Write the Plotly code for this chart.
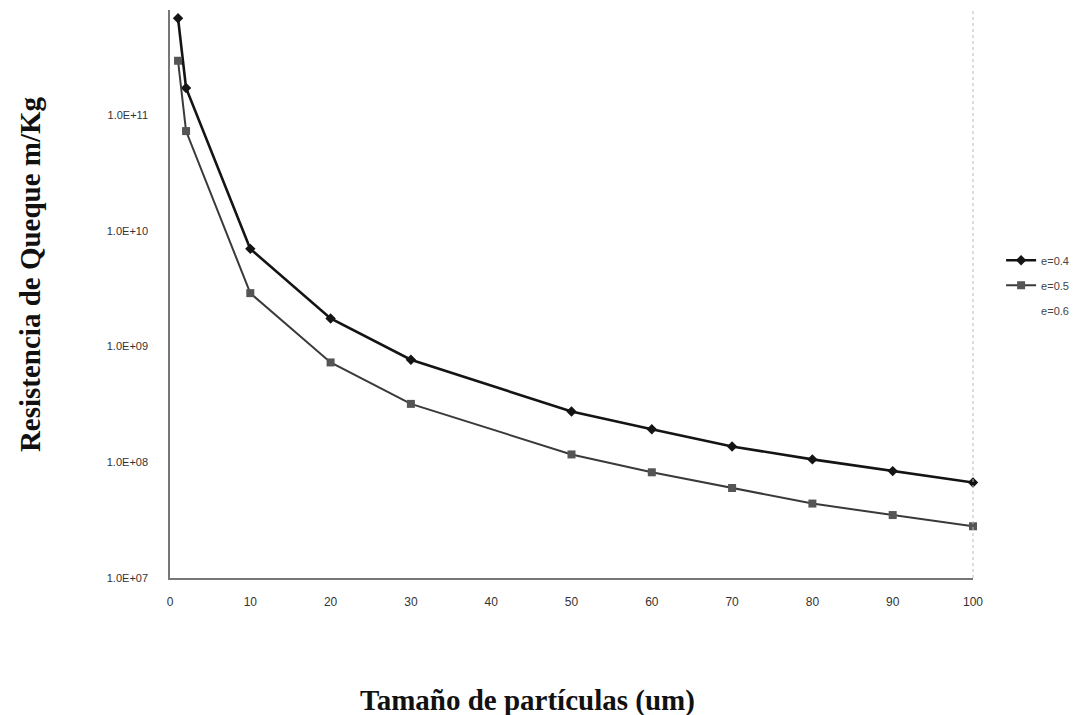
import plotly.graph_objects as go

# Data
x_04 = [1, 2, 10, 20, 30, 50, 60, 70, 80, 90, 100]
y_04 = [6.9e11, 1.72e11, 7.0e9, 1.75e9, 7.7e8, 2.75e8, 1.93e8, 1.37e8, 1.06e8, 8.4e7, 6.7e7]

x_05 = [1, 2, 10, 20, 30, 50, 60, 70, 80, 90, 100]
y_05 = [2.96e11, 7.3e10, 2.9e9, 7.3e8, 3.2e8, 1.17e8, 8.2e7, 6.0e7, 4.4e7, 3.5e7, 2.8e7]

# e=0.6 appears only in the legend (no visible series)
x_06 = [None]
y_06 = [None]

x_tickvals = [0, 10, 20, 30, 40, 50, 60, 70, 80, 90, 100]
x_ticktext = ["0", "10", "20", "30", "40", "50", "60", "70", "80", "90", "100"]
y_tickvals = [1e7, 1e8, 1e9, 1e10, 1e11]
y_ticktext = ["1.0E+07", "1.0E+08", "1.0E+09", "1.0E+10", "1.0E+11"]

fig = go.Figure()
fig.add_trace(go.Scatter(
    x=x_04, y=y_04, name="e=0.4", mode="lines+markers", legendgroup="a",
    line=dict(color="#141414", width=2.6),
    marker=dict(symbol="diamond", size=8, color="#141414"),
    cliponaxis=False,
))
fig.add_trace(go.Scatter(
    x=x_05, y=y_05, name="e=0.5", mode="lines+markers", legendgroup="b",
    line=dict(color="#3a3a3a", width=2),
    marker=dict(symbol="square", size=8, color="#555555"),
    cliponaxis=False,
))
fig.add_trace(go.Scatter(
    x=x_06, y=y_06, name="e=0.6", mode="lines", legendgroup="c", showlegend=True,
    line=dict(color="rgba(0,0,0,0)", width=2),
))

fig.add_shape(type="line", xref="x domain", yref="y domain",
              x0=1, x1=1, y0=0, y1=1,
              line=dict(color="#bbbbbb", width=1, dash="dot"))

fig.update_layout(
    width=1087, height=715,
    margin=dict(l=170, r=114, t=10, b=137),
    paper_bgcolor="white", plot_bgcolor="white",
    showlegend=True,
    legend=dict(x=1.035, y=0.585, xanchor="left", yanchor="top",
                font=dict(family="Arial, Liberation Sans, sans-serif", size=11, color="#444444"),
                bgcolor="rgba(0,0,0,0)", tracegroupgap=6, itemwidth=30,
                traceorder="grouped"),
    xaxis=dict(range=[0, 100], tickvals=x_tickvals, ticktext=x_ticktext,
               showgrid=False, zeroline=False, showline=True,
               linecolor="#777777", linewidth=1.5,
               ticks="", tickfont=dict(family="Arial, Liberation Sans, sans-serif", size=12, color="#333333"),
               ticklabelstandoff=12),
    yaxis=dict(type="log", range=[7, 11.91], tickvals=y_tickvals, ticktext=y_ticktext,
               showgrid=False, zeroline=False, showline=True,
               linecolor="#777777", linewidth=1.5,
               ticks="", tickfont=dict(family="Arial, Liberation Sans, sans-serif", size=11, color="#333333"),
               ticklabelstandoff=18),
    annotations=[
        dict(text="<b>Tamaño de partículas (um)</b>", xref="paper", yref="paper",
             x=0.445, y=0, xanchor="center", yanchor="middle", yshift=-122, showarrow=False,
             font=dict(family="Liberation Serif, Times New Roman, serif", size=29, color="#111111")),
        dict(text="<b>Resistencia de Queque m/Kg</b>", xref="paper", yref="paper",
             x=0, y=0.535, xanchor="center", yanchor="middle", xshift=-140, showarrow=False,
             textangle=-90,
             font=dict(family="Liberation Serif, Times New Roman, serif", size=29, color="#111111")),
    ],
)

fig.write_html("out.html")
